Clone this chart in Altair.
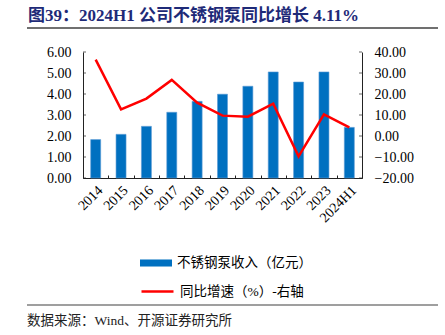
import altair as alt
import pandas as pd

years = ['2014', '2015', '2016', '2017', '2018', '2019', '2020', '2021', '2022', '2023', '2024H1']
revenue = [1.83, 2.08, 2.46, 3.13, 3.65, 3.99, 4.37, 5.05, 4.57, 5.05, 2.41]
growth = [36.4, 12.7, 17.8, 26.7, 15.9, 9.7, 9.2, 15.4, -9.7, 10.3, 4.11]
left_ticks = [0, 1, 2, 3, 4, 5, 6]
right_ticks = [-20, -10, 0, 10, 20, 30, 40]

bar_name = '不锈钢泵收入（亿元）'
line_name = '同比增速（%）-右轴'
title_text = '图39：2024H1 公司不锈钢泵同比增长 4.11%'
source_text = '数据来源：Wind、开源证券研究所'

df = pd.DataFrame({'year': years, 'revenue': revenue, 'growth': growth,
                   'bar_s': bar_name, 'line_s': line_name})
lt = pd.DataFrame({'v': left_ticks})
rt = pd.DataFrame({'v': right_ticks})
one = pd.DataFrame({'t': [0]})

SERIF = 'Liberation Serif, Noto Sans CJK SC'
W, H = 279, 126
L, T = 83, 52

xscale = alt.Scale(domain=years, paddingInner=0, paddingOuter=0)
lscale = alt.Scale(domain=[0, 6], nice=False)
rscale = alt.Scale(domain=[-20, 40], nice=False)

bars = alt.Chart(df).mark_bar(size=10, stroke='#5B9BD5', strokeWidth=0.6).encode(
    x=alt.X('year:N', sort=years, scale=xscale,
            axis=alt.Axis(title=None, labelAngle=315, labelAlign='right', labelBaseline='top',
                          labelFont=SERIF, labelFontSize=14, labelColor='black',
                          domainColor='#222', domainWidth=1, ticks=False, labelPadding=5)),
    y=alt.Y('revenue:Q', scale=lscale,
            axis=alt.Axis(orient='left', values=left_ticks, format='.2f', title=None, grid=False,
                          ticks=False, labelPadding=12, labelFont=SERIF, labelFontSize=14,
                          labelColor='black', domainColor='#222')),
    fill=alt.Fill('bar_s:N', scale=alt.Scale(domain=[bar_name], range=['#0070C0']),
                  legend=alt.Legend(title=None, orient='none', legendX=57, legendY=195, padding=0,
                                    symbolType='M-1,-0.22L1,-0.22L1,0.22L-1,0.22Z', symbolSize=1024,
                                    symbolStrokeWidth=0, labelFont=SERIF, labelFontSize=13.5,
                                    labelColor='black', labelOffset=5))
)

line = alt.Chart(df).mark_line(strokeWidth=2.5).encode(
    x=alt.X('year:N', sort=years, scale=xscale,
            axis=alt.Axis(title=None, orient='top', offset=-H, labels=False, domain=False,
                          ticks=True, tickBand='extent', tickSize=3, tickColor='#222')),
    y=alt.Y('growth:Q', scale=rscale,
            axis=alt.Axis(orient='right', values=right_ticks, format='.2f', title=None, grid=False,
                          ticks=False, labelPadding=12, labelFont=SERIF, labelFontSize=14,
                          labelColor='black', domainColor='#222')),
    stroke=alt.Stroke('line_s:N', scale=alt.Scale(domain=[line_name], range=['#FF0000']),
                      legend=alt.Legend(title=None, orient='none', legendX=57, legendY=222, padding=0,
                                        symbolType='stroke', symbolSize=1024, symbolStrokeWidth=2.5,
                                        labelFont=SERIF, labelFontSize=13.5, labelColor='black',
                                        labelOffset=5))
)

lticks = alt.Chart(lt).mark_tick(orient='horizontal', size=3, thickness=1, color='#222').encode(
    y=alt.Y('v:Q', scale=lscale, axis=None), x=alt.value(1.5))
rticks = alt.Chart(rt).mark_tick(orient='horizontal', size=3, thickness=1, color='#222').encode(
    y=alt.Y('v:Q', scale=rscale, axis=None), x=alt.value(W - 1.5))

title = alt.Chart(one).mark_text(text=title_text, font=SERIF, fontSize=17, fontWeight='bold',
                                 color='#1E2A78', align='left', baseline='alphabetic').encode(
    x=alt.value(28 - L), y=alt.value(21 - T))
top_rule = alt.Chart(one).mark_rule(color='#404040', strokeWidth=1.5).encode(
    x=alt.value(27 - L), x2=alt.value(438 - L), y=alt.value(28 - T))
bottom_rule = alt.Chart(one).mark_rule(color='#404040', strokeWidth=1.2).encode(
    x=alt.value(27 - L), x2=alt.value(438 - L), y=alt.value(305 - T))
source = alt.Chart(one).mark_text(text=source_text, font=SERIF, fontSize=13.5, color='#222',
                                  align='left', baseline='alphabetic').encode(
    x=alt.value(27 - L), y=alt.value(325 - T))

chart = alt.layer(bars, line, lticks, rticks, title, top_rule, bottom_rule, source).resolve_scale(
    y='independent', fill='independent', stroke='independent'
).resolve_axis(x='independent').properties(
    width=W, height=H,
    padding={'left': L, 'top': T, 'right': 445 - L - W, 'bottom': 335 - T - H},
    autosize=alt.AutoSizeParams(type='none'),
    background='white'
).configure_view(stroke=None)

chart.save('out.html', embed_options={'renderer': 'svg', 'actions': False})
